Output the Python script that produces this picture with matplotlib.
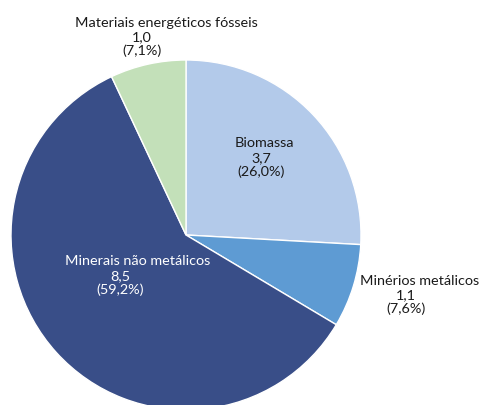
import matplotlib
matplotlib.use("Agg")
import matplotlib.pyplot as plt

categories = ["Biomassa", "Minérios metálicos", "Minerais não metálicos", "Materiais energéticos fósseis"]
values = [3.7, 1.1, 8.5, 1.0]
value_labels = ["3,7", "1,1", "8,5", "1,0"]
pct_labels = ["26,0%", "7,6%", "59,2%", "7,1%"]
colors = ["#B3CAEA", "#5E9BD3", "#394E88", "#C3E0B9"]

plt.rcParams['font.family'] = ['Lato', 'DejaVu Sans']

W, H = 482, 405
fig = plt.figure(figsize=(W / 100, H / 100), dpi=100)
ax = fig.add_axes([0, 0, 1, 1])
ax.axis('off')

ax.pie(values, colors=colors, startangle=90, counterclock=False,
       center=(186, H - 235), radius=175,
       wedgeprops=dict(edgecolor='white', linewidth=1.0), frame=False)
ax.set_xlim(0, W)
ax.set_ylim(0, H)
ax.set_aspect('equal')

# (name x, name y, numbers x, first number y) in pixel coordinates from top-left
label_pos = [(264, 143, 261, 158), (420, 281, 406, 295),
             (138, 261, 120, 276), (166, 23, 142, 37)]
text_colors = ["#1a1a1a", "#1a1a1a", "white", "#1a1a1a"]
step = 14.2
fs = 10.4
for cat, v, p, (nx, ny, vx, vy), tc in zip(categories, value_labels, pct_labels, label_pos, text_colors):
    ax.text(nx, H - ny, cat, ha='center', va='center', fontsize=fs, color=tc)
    ax.text(vx, H - vy, v, ha='center', va='center', fontsize=fs, color=tc)
    ax.text(vx, H - vy - step, f"({p})", ha='center', va='center', fontsize=fs, color=tc)

fig.savefig("out.png", dpi=100)
